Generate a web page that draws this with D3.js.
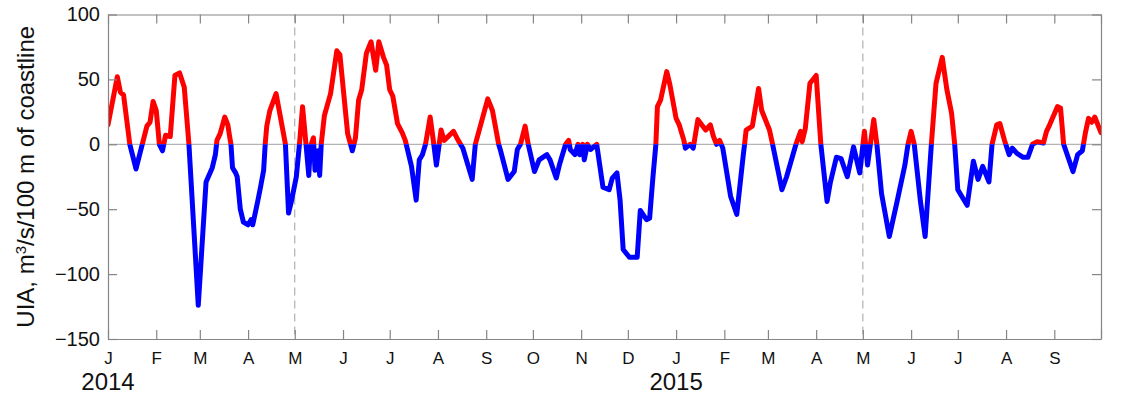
<!DOCTYPE html>
<html>
<head>
<meta charset="utf-8">
<script src="https://cdn.jsdelivr.net/npm/d3@7"></script>
<style>
  body { margin: 0; background: #fff; }
  svg { display: block; font-family: "Liberation Sans", Arial, sans-serif; }
</style>
</head>
<body>
<figure style="margin:0"></figure>
<script>
// days since 1 Jan 2014, and upwelling index values
const days = [0,6,8,10,14,18,22,25,27,29,31,33,35,37,40,43,46,49,52,58,63,67,69,70,72,75,77,78,79,80,82,83,85,87,90,92,93,96,98,100,101,102,104,108,110,114,116,118,121,123,125,127,129,130,132,133,135,136,137,139,143,147,149,154,157,159,161,163,166,169,172,174,177,179,181,183,186,189,191,195,198,200,202,204,207,209,211,214,216,222,225,228,234,236,244,247,251,252,257,261,263,265,268,270,274,277,282,284,288,290,294,296,297,300,302,303,305,306,308,310,314,318,322,324,327,329,331,335,340,342,346,348,350,352,353,355,359,361,365,367,370,371,374,376,379,384,387,389,391,393,395,400,404,408,409,410,414,418,420,425,427,433,436,442,445,446,448,451,455,458,462,464,468,471,475,479,483,486,488,492,494,497,502,507,512,514,516,518,522,525,529,532,536,539,542,544,546,552,556,559,562,566,568,571,573,576,579,581,584,588,591,594,597,601,603,605,610,612,614,620,623,626,628,630,632,634,638]
const uia = [15,52,40,38,0,-19,0,14,17,33,26,0,-5,7,6,53,55,44,0,-124,-29,-18,-8,3,8,21,15,7,0,-18,-22,-25,-50,-60,-62,-58,-62,-45,-33,-20,0,14,26,39,26,0,-53,-43,-25,0,29,3,-24,-2,5,-20,-5,-24,0,22,39,72,69,8,-5,5,34,42,70,79,57,79,67,61,42,37,16,9,3,-17,-43,-12,-8,0,21,3,-16,11,3,10,3,-3,-27,0,35,26,0,-4,-27,-21,-4,0,14,0,-21,-12,-8,-12,-26,-16,0,3,-4,-8,0,-8,0,-12,0,-4,0,-33,-35,-26,-22,-43,-81,-87,-87,-51,-58,-57,-27,0,29,34,56,46,20,15,3,-3,0,-3,19,11,15,6,0,3,-3,-40,-54,-10,0,11,14,43,26,11,0,-35,-25,0,10,2,12,47,53,0,-44,-30,-10,-11,-25,-2,-22,10,-16,19,0,-38,-71,-44,-16,0,10,0,-44,-71,0,47,67,42,24,0,-35,-47,-13,-27,-17,-29,0,15,16,3,-8,-3,-7,-10,-10,0,2,1,10,15,29,28,0,-21,-8,-5,9,20,17,21,9]

const monthLetters = ["J","F","M","A","M","J","J","A","S","O","N","D","J","F","M","A","M","J","J","A","S"]
const yTicks = [-150,-100,-50,0,50,100]
const yearLabels = [{year: "2014", date: Date.UTC(2014,0,1)}, {year: "2015", date: Date.UTC(2015,0,1)}]
const dashedDates = [Date.UTC(2014,4,1), Date.UTC(2015,4,1)]

const start = new Date(Date.UTC(2014,0,1)), end = new Date(Date.UTC(2015,9,1))
const W = 1124, H = 396
const margin = {top: 14.5, right: 23, bottom: 57, left: 108}

const svg = d3.select("figure").append("svg").attr("width", W).attr("height", H)
const x = d3.scaleUtc().domain([start, end]).range([margin.left, W - margin.right])
const y = d3.scaleLinear().domain([-150, 100]).range([H - margin.bottom, margin.top])

const data = days.map((d, i) => ({date: d3.utcDay.offset(start, d), v: uia[i]}))
const months = d3.utcMonth.range(start, d3.utcDay.offset(end, 1))

const axisColor = "#858585", textColor = "#111"

// clip regions above and below zero
const defs = svg.append("defs")
defs.append("clipPath").attr("id", "above").append("rect")
    .attr("x", margin.left).attr("y", 0).attr("width", x.range()[1] - margin.left).attr("height", y(0))
defs.append("clipPath").attr("id", "below").append("rect")
    .attr("x", margin.left).attr("y", y(0)).attr("width", x.range()[1] - margin.left).attr("height", H - y(0))

// zero line and dashed separators
svg.append("line").attr("x1", x.range()[0]).attr("x2", x.range()[1])
    .attr("y1", y(0)).attr("y2", y(0)).attr("stroke", "#b4b4b4").attr("stroke-width", 1.2)
svg.selectAll("line.sep").data(dashedDates).enter().append("line").classed("sep", true)
    .attr("x1", d => x(d)).attr("x2", d => x(d))
    .attr("y1", y(100)).attr("y2", y(-150))
    .attr("stroke", "#a0a0a0").attr("stroke-width", 1).attr("stroke-dasharray", "8,5")

const line = d3.line().x(d => x(d.date)).y(d => y(d.v))
for (const [clip, col] of [["above", "#ff0000"], ["below", "#0000ff"]]) {
    svg.append("path").datum(data)
        .attr("d", line)
        .attr("clip-path", `url(#${clip})`)
        .attr("fill", "none").attr("stroke", col)
        .attr("stroke-width", 5).attr("stroke-linejoin", "round").attr("stroke-linecap", "round")
}

// axes, ticks pointing inward
const axBottom = svg.append("g").attr("transform", `translate(0,${y(-150)})`)
    .call(d3.axisBottom(x).tickValues(months).tickSize(-9).tickSizeOuter(0).tickPadding(13)
        .tickFormat((d, i) => monthLetters[i] || ""))
const axTop = svg.append("g").attr("transform", `translate(0,${y(100)})`)
    .call(d3.axisTop(x).tickValues(months).tickSize(-9).tickSizeOuter(0).tickFormat(""))
const axLeft = svg.append("g").attr("transform", `translate(${x.range()[0]},0)`)
    .call(d3.axisLeft(y).tickValues(yTicks).tickSize(-9).tickSizeOuter(0).tickPadding(8))
const axRight = svg.append("g").attr("transform", `translate(${x.range()[1]},0)`)
    .call(d3.axisRight(y).tickValues(yTicks).tickSize(-9).tickSizeOuter(0).tickFormat(""))

for (const g of [axBottom, axTop, axLeft, axRight]) {
    g.selectAll("path, line").attr("stroke", axisColor).attr("stroke-width", 1.2)
    g.selectAll("text").attr("fill", textColor)
    g.attr("font-family", null)
}
axBottom.selectAll("text").attr("font-size", 17)
axLeft.selectAll("text").attr("font-size", 20)

// year labels
svg.selectAll("text.year").data(yearLabels).enter().append("text").classed("year", true)
    .text(d => d.year)
    .attr("x", d => x(d.date)).attr("y", 390)
    .attr("text-anchor", "middle").attr("font-size", 24).attr("fill", textColor)

// y axis title
const title = svg.append("text")
    .attr("transform", `translate(34,${(y(100) + y(-150)) / 2}) rotate(-90)`)
    .attr("text-anchor", "middle").attr("font-size", 24).attr("fill", textColor)
title.append("tspan").text("UIA, m")
title.append("tspan").text("3").attr("baseline-shift", "super").attr("font-size", 15)
title.append("tspan").text("/s/100 m of coastline")
</script>
</body>
</html>
